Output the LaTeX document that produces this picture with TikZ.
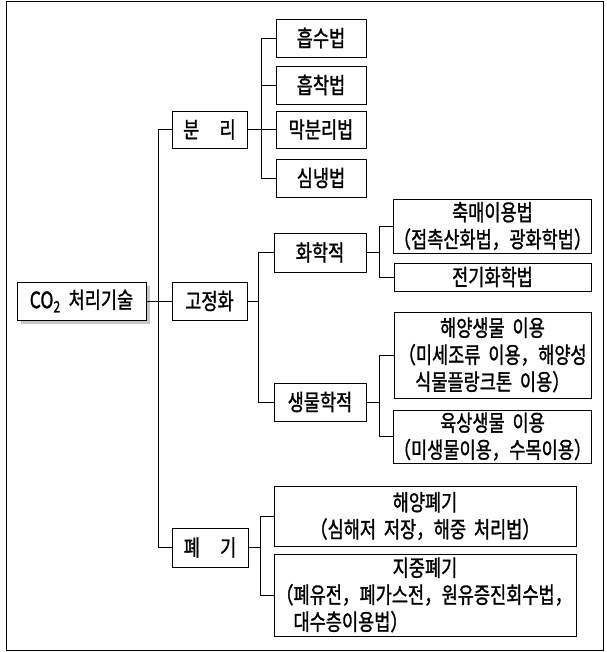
\documentclass[tikz,border=0pt]{standalone}
\usepackage{fontspec}
\setmainfont{Noto Sans CJK KR}[FakeStretch=0.78,FakeBold=1.3,WordSpace=2]
\usetikzlibrary{shadows}
\tikzset{
  box/.style={draw, line width=0.9pt, inner sep=0pt, align=center, fill=white,
              font=\fontsize{22.5}{27}\selectfont},
  link/.style={line width=0.9pt},
  frame/.style={line width=1pt}
}
\begin{document}
\begin{tikzpicture}[x=1pt,y=-1pt]
\useasboundingbox (0,0) rectangle (606,652);
\draw[frame] (6,1.5) rectangle (603,650);

\node[box, minimum width=129, minimum height=38,
      drop shadow={shadow xshift=4pt, shadow yshift=-4pt, fill=gray!45, opacity=1}]
      (co2) at (81.5,301) {CO\textsubscript{2} 처리기술};

\node[box, minimum width=75, minimum height=37] (bunri) at (209.5,129.5) {분\hspace{0.9em}리};
\node[box, minimum width=75, minimum height=38] (gojung) at (209.5,301) {고정화};
\node[box, minimum width=76, minimum height=39] (pyegi) at (210,547.5) {폐\hspace{0.9em}기};

\node[box, minimum width=90, minimum height=38] (a1) at (321,38) {흡수법};
\node[box, minimum width=90, minimum height=38] (a2) at (321,85) {흡착법};
\node[box, minimum width=90, minimum height=37] (a3) at (321,129.5) {막분리법};
\node[box, minimum width=90, minimum height=38] (a4) at (321,178) {심냉법};

\node[box, minimum width=92, minimum height=39] (b1) at (320,252.5) {화학적};
\node[box, minimum width=92, minimum height=38] (b2) at (320,402) {생물학적};

\node[box, minimum width=197, minimum height=54] (c1) at (492.5,226) {축매이용법\\（접촉산화법，광화학법）};
\node[box, minimum width=197, minimum height=28] (c2) at (492.5,277) {전기화학법};
\node[box, minimum width=197, minimum height=86] (c3) at (492.5,355) {해양생물 이용\\（미세조류 이용，해양성\\식물플랑크톤 이용）};
\node[box, minimum width=197, minimum height=53] (c4) at (492.5,436.5) {육상생물 이용\\（미생물이용，수목이용）};

\node[box, minimum width=302, minimum height=60] (d1) at (425,516) {해양폐기\\（심해저 저장，해중 처리법）};
\node[box, minimum width=302, minimum height=82, text width=298pt, align=left] (d2) at (425,595)
  {\centering 지중폐기\par\raggedright（폐유전，폐가스전，원유증진회수법，\\\phantom{（}대수층이용법）\par};

% connectors
\draw[link] (co2.east) -- (gojung.west);
\draw[link] (bunri.west) -- ++(-13,0) |- (pyegi.west);

\draw[link] (bunri.east) -- ++(14,0) coordinate (j1);
\draw[link] (a1.west) -| (j1) |- (a4.west);
\draw[link] (a2.west) -- (a2.west -| j1);
\draw[link] (a3.west) -- (a3.west -| j1);

\draw[link] (gojung.east) -- ++(11,0) coordinate (j2);
\draw[link] (b1.west) -| (j2) |- (b2.west);

\draw[link] (b1.east) -- ++(13,0) coordinate (j3);
\draw[link] (c1.west) -| (j3) |- (c2.west);

\draw[link] (b2.east) -- ++(13,0) coordinate (j4);
\draw[link] (c3.west) -| (j4) |- (c4.west);

\draw[link] (pyegi.east) -- ++(12,0) coordinate (j5);
\draw[link] (d1.west) -| (j5) |- (d2.west);
\end{tikzpicture}
\end{document}
